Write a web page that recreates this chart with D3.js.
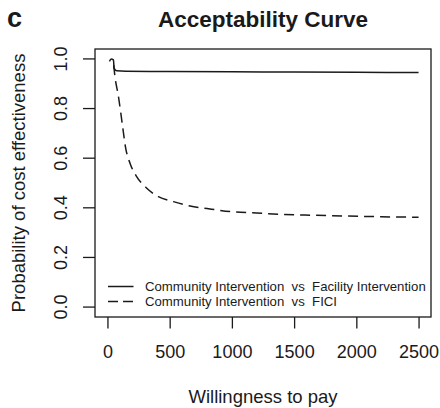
<!DOCTYPE html>
<html>
<head>
<meta charset="utf-8">
<script src="https://cdn.jsdelivr.net/npm/d3@7"></script>
<style>
  html, body { margin: 0; padding: 0; background: #fff; }
  svg { display: block; font-family: "Liberation Sans", Arial, Helvetica, sans-serif; }
</style>
</head>
<body>
<svg id="chart" width="440" height="408"></svg>
<script>
// Willingness-to-pay grid and probability of cost effectiveness for each comparison
const wtpFacility = [16, 30, 48, 54, 75, 150, 500, 1000, 1500, 2000, 2500];
const probFacility = [0.99, 1.0, 0.996, 0.962, 0.952, 0.950, 0.949, 0.948, 0.947, 0.946, 0.945];

const wtpFICI = [50, 60, 88, 120, 145, 182, 236, 316, 409, 530, 664, 800, 985, 1200, 1387, 1650, 1925, 2200, 2500];
const probFICI = [0.975, 0.93, 0.85, 0.735, 0.645, 0.579, 0.525, 0.479, 0.445, 0.425, 0.407, 0.397, 0.385, 0.379, 0.374, 0.370, 0.367, 0.364, 0.362];

const xTicks = [0, 500, 1000, 1500, 2000, 2500];
const yTicks = [0, 0.2, 0.4, 0.6, 0.8, 1.0];

const seriesNames = [
  "Community Intervention  vs  Facility Intervention",
  "Community Intervention  vs  FICI"
];

const svg = d3.select("#chart");
const box = { left: 95, right: 431, top: 49, bottom: 317 };
const ink = "#1a1a1a";

// Axis ranges padded by 4% on each side
const x = d3.scaleLinear().domain([-100, 2600]).range([box.left, box.right]);
const y = d3.scaleLinear().domain([-0.04, 1.04]).range([box.bottom, box.top]);

// Panel letter and title
svg.append("text").attr("x", 7).attr("y", 26.5)
  .attr("font-size", 27).attr("font-weight", "bold").attr("fill", ink).text("c");
svg.append("text").attr("x", (box.left + box.right) / 2).attr("y", 27)
  .attr("text-anchor", "middle").attr("font-size", 22.5).attr("font-weight", "bold")
  .attr("fill", ink).text("Acceptability Curve");

// X axis
const xAxis = svg.append("g").attr("transform", `translate(0,${box.bottom})`)
  .call(d3.axisBottom(x).tickValues(xTicks).tickSize(11.5).tickPadding(17).tickFormat(d3.format("d")));
xAxis.select(".domain").remove();
xAxis.selectAll("line").attr("stroke", ink).attr("stroke-width", 1.3);
xAxis.selectAll("text").attr("font-size", 18).attr("fill", ink).attr("font-family", null);

// Y axis ticks, labels rotated parallel to the axis
const yAxis = svg.append("g");
yAxis.selectAll("line").data(yTicks).join("line")
  .attr("x1", box.left - 12).attr("x2", box.left)
  .attr("y1", d => y(d)).attr("y2", d => y(d))
  .attr("stroke", ink).attr("stroke-width", 1.3);
yAxis.selectAll("text").data(yTicks).join("text")
  .attr("transform", d => `translate(66.5,${y(d)}) rotate(-90)`)
  .attr("text-anchor", "middle").attr("font-size", 18).attr("fill", ink)
  .text(d3.format(".1f"));

// Axis titles
svg.append("text").attr("x", (box.left + box.right) / 2).attr("y", 403)
  .attr("text-anchor", "middle").attr("font-size", 18.5).attr("fill", ink)
  .text("Willingness to pay");
svg.append("text")
  .attr("transform", `translate(24.5,${(box.top + box.bottom) / 2}) rotate(-90)`)
  .attr("text-anchor", "middle").attr("font-size", 18.5).attr("fill", ink)
  .text("Probability of cost effectiveness");

// Curves
const line = d3.line().x(d => x(d[0])).y(d => y(d[1])).curve(d3.curveMonotoneX);
svg.append("path")
  .datum(d3.zip(wtpFacility, probFacility))
  .attr("d", line).attr("fill", "none").attr("stroke", ink).attr("stroke-width", 1.5);
svg.append("path")
  .datum(d3.zip(wtpFICI, probFICI))
  .attr("d", line).attr("fill", "none").attr("stroke", ink).attr("stroke-width", 1.5)
  .attr("stroke-dasharray", "10,6");

// Plot frame
svg.append("rect").attr("x", box.left).attr("y", box.top)
  .attr("width", box.right - box.left).attr("height", box.bottom - box.top)
  .attr("fill", "none").attr("stroke", ink).attr("stroke-width", 1.3);

// Legend
const legend = svg.append("g");
const legendRows = [286.5, 301.5];
const dashes = [null, "10,5"];
seriesNames.forEach((name, i) => {
  legend.append("line")
    .attr("x1", 108).attr("x2", 133.5)
    .attr("y1", legendRows[i]).attr("y2", legendRows[i])
    .attr("stroke", ink).attr("stroke-width", 1.5)
    .attr("stroke-dasharray", dashes[i]);
  legend.append("text")
    .attr("x", 145).attr("y", legendRows[i]).attr("dy", "0.35em")
    .attr("font-size", 13.2).attr("fill", ink)
    .style("white-space", "pre")
    .text(name);
});
</script>
</body>
</html>
